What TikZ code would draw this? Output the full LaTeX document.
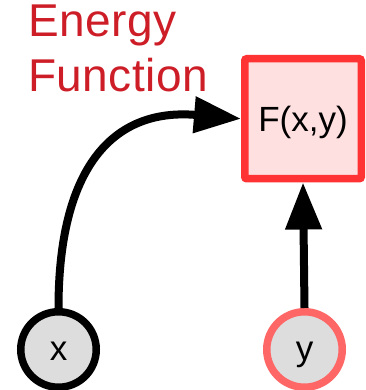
\documentclass[tikz,border=0pt]{standalone}
\usepackage{fontspec}
\setmainfont{Liberation Sans}
\usetikzlibrary{arrows.meta}
\definecolor{EFRed}{RGB}{205, 30, 40}
\definecolor{EFBoxLine}{RGB}{255, 51, 51}
\definecolor{EFBoxFill}{RGB}{255, 224, 224}
\definecolor{EFVarFill}{RGB}{221, 221, 221}
\definecolor{EFOutLine}{RGB}{255, 102, 102}

\begin{document}
\begin{tikzpicture}[
  x=1pt, y=1pt,
  every node/.style={font=\fontsize{35}{40}\selectfont},
  energybox/.style={draw=EFBoxLine, fill=EFBoxFill, line width=7.5pt,
                    rounded corners=2pt, minimum width=116.5pt, minimum height=120pt,
                    text height=27pt, text depth=2pt},
  var/.style={circle, draw=black, fill=EFVarFill, line width=7.5pt,
              minimum size=75.5pt, inner sep=0pt, text height=25pt, text depth=2pt},
  outvar/.style={var, draw=EFOutLine},
  arr/.style={-{Triangle[length=47pt, width=35pt]}, line width=8pt, draw=black}
]
  \useasboundingbox (0,0) rectangle (365,390);

  %% Nodes
  \node[energybox] (F) at (303, 271.25) {F(x,y)};
  \node[var]       (x) at (58.5, 40.5)  {x};
  \node[outvar]    (y) at (304.5, 40.5) {y};

  %% Arrows
  \draw[arr] (x.north) .. controls +(0,138) and +(-130,11) .. (F.west);
  \draw[arr] (y.north) -- (F.south);

  %% Title
  \node[anchor=north west, inner sep=0pt, align=left, text=EFRed,
        font=\fontsize{46}{55}\selectfont\addfontfeature{LetterSpace=1}] (title) at (28, 385)
    {Energy\\Function};
\end{tikzpicture}
\end{document}
